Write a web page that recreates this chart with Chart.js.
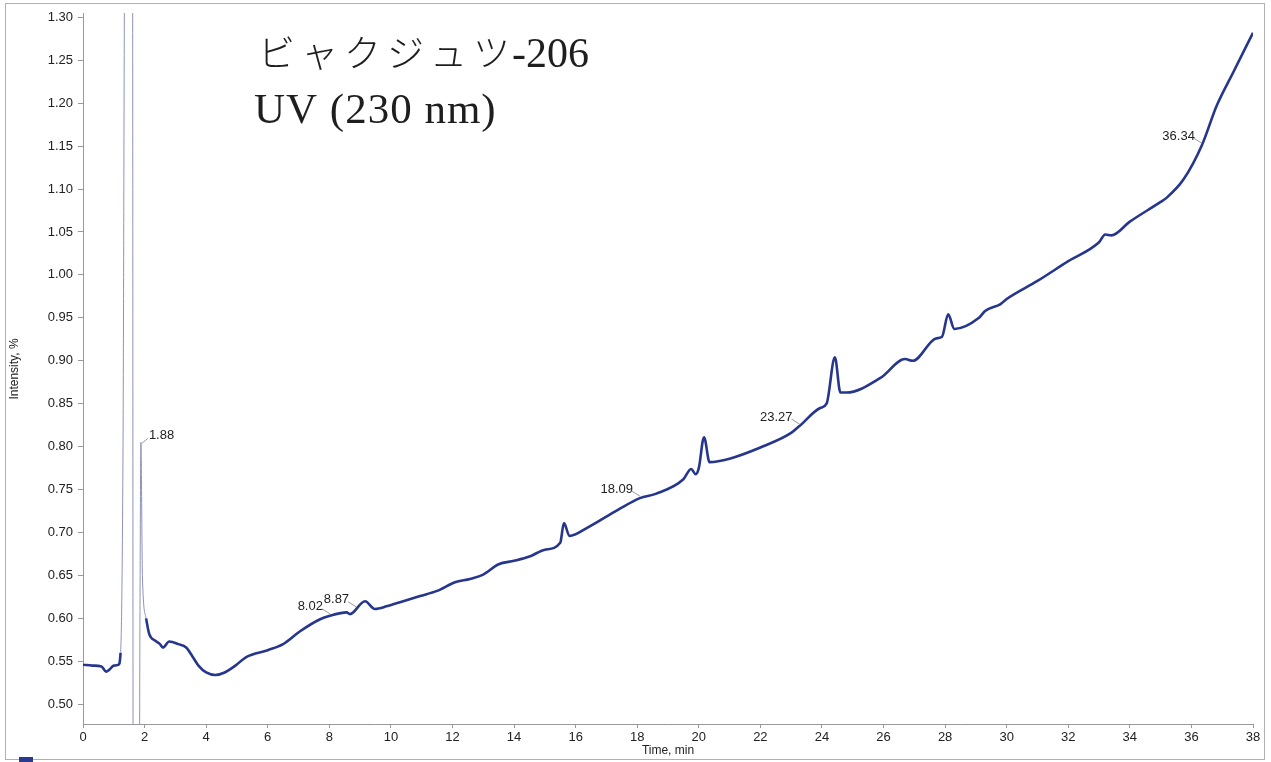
<!DOCTYPE html>
<html>
<head>
<meta charset="utf-8">
<script src="https://cdn.jsdelivr.net/npm/chart.js"></script>
<style>
  body { margin: 0; background: #fff; }
  #wrap { width: 1271px; height: 762px; }
</style>
</head>
<body>
<div id="wrap"><canvas id="chrom" width="1271" height="762"></canvas></div>
<script>
// retention time (min) and intensity (%)
const timeMin = [
  0.00, 0.30, 0.60, 0.75, 0.85, 1.00, 1.15, 1.22, 1.30, 1.36, 1.61, 1.63, 1.82, 1.85, 1.88, 1.93,
  2.05, 2.15, 2.35, 2.50, 2.60, 2.80, 3.10, 3.35, 3.55, 3.75, 4.00, 4.30, 4.60, 4.95, 5.30,
  6.00, 6.50, 7.05, 7.70, 8.02, 8.56, 8.67, 9.16, 9.48, 9.86, 10.40, 10.95, 11.50, 12.08, 12.57,
  13.00, 13.50, 14.00, 14.50, 15.00, 15.50, 15.62, 15.80, 16.40, 17.40, 18.09, 18.60, 19.50,
  19.75, 19.90, 20.00, 20.17, 20.35, 21.00, 22.00, 23.00, 23.27, 23.94, 24.15, 24.42, 24.60,
  24.80, 25.90, 26.70, 26.95, 27.70, 27.90, 28.10, 28.30, 29.10, 29.30, 29.80, 30.00, 31.00,
  32.00, 33.00, 33.20, 33.40, 34.00, 35.00, 35.20, 35.74, 36.34, 36.82, 37.36, 38.00
];
const intensity = [
  0.546, 0.545, 0.544, 0.538, 0.540, 0.545, 0.546, 0.560, 0.800, 1.400, 1.400, 0.300, 0.300, 0.600, 0.805, 0.650,
  0.600, 0.582, 0.574, 0.570, 0.566, 0.573, 0.570, 0.566, 0.556, 0.545, 0.537, 0.534, 0.537, 0.545, 0.555,
  0.563, 0.570, 0.585, 0.599, 0.603, 0.607, 0.605, 0.620, 0.611, 0.614, 0.620, 0.626, 0.632, 0.642, 0.646,
  0.651, 0.663, 0.667, 0.672, 0.680, 0.688, 0.711, 0.696, 0.706, 0.727, 0.740, 0.745, 0.762,
  0.774, 0.768, 0.775, 0.811, 0.782, 0.786, 0.799, 0.816, 0.824, 0.845, 0.850, 0.904, 0.863,
  0.863, 0.880, 0.902, 0.900, 0.926, 0.928, 0.954, 0.937, 0.950, 0.958, 0.966, 0.972, 0.993,
  1.016, 1.038, 1.047, 1.046, 1.062, 1.085, 1.090, 1.111, 1.151, 1.197, 1.236, 1.282
];

const peakLabels = ['1.88', '8.02', '8.87', '18.09', '23.27', '36.34'];
const peakTimes = [1.88, 8.02, 8.87, 18.09, 23.27, 36.34];

const xTicks = [0, 2, 4, 6, 8, 10, 12, 14, 16, 18, 20, 22, 24, 26, 28, 30, 32, 34, 36, 38];
const yTicks = [0.50, 0.55, 0.60, 0.65, 0.70, 0.75, 0.80, 0.85, 0.90, 0.95, 1.00,
                1.05, 1.10, 1.15, 1.20, 1.25, 1.30];

const sampleName = 'ビャクジュツ';
const sampleNo = '-206';
const detector = 'UV (230 nm)';
const xTitle = 'Time, min';
const yTitle = 'Intensity, %';

const points = timeMin.map((t, i) => ({ x: t, y: intensity[i] }));

function valueAt(t) {
  for (let i = 1; i < timeMin.length; i++) {
    if (timeMin[i] >= t) {
      const f = (t - timeMin[i - 1]) / (timeMin[i] - timeMin[i - 1]);
      return intensity[i - 1] + f * (intensity[i] - intensity[i - 1]);
    }
  }
  return intensity[intensity.length - 1];
}

// solvent front is drawn thin and faint like the original
function frontSegment(ctx) {
  const a = ctx.p0.parsed, b = ctx.p1.parsed;
  return a.x < 2.0 && (Math.max(a.y, b.y) > 0.62 || Math.min(a.y, b.y) < 0.5);
}

const framePlugin = {
  id: 'frame',
  beforeDraw(chart) {
    const c = chart.ctx;
    c.save();
    c.fillStyle = '#fff';
    c.fillRect(0, 0, chart.width, chart.height);
    c.strokeStyle = '#b0b0b0';
    c.lineWidth = 1;
    c.strokeRect(5.5, 3.5, 1259, 756);
    c.fillStyle = '#2a3a8e';
    c.fillRect(19, 757, 14, 5);
    c.restore();
  }
};

const textPlugin = {
  id: 'texts',
  afterDatasetsDraw(chart) {
    const c = chart.ctx;
    const xs = chart.scales.x, ys = chart.scales.y;
    c.save();

    // heading
    c.fillStyle = '#1e1e1e';
    c.textAlign = 'left';
    c.textBaseline = 'alphabetic';
    c.letterSpacing = '6px';
    c.font = '300 37px "Noto Sans CJK JP", sans-serif';
    c.fillText(sampleName, 258, 67);
    const w = c.measureText(sampleName).width;
    c.letterSpacing = '0px';
    c.font = '42px "Liberation Serif", serif';
    c.fillText(sampleNo, 258 + w - 4, 67);
    c.letterSpacing = '1px';
    c.font = '43px "Liberation Serif", serif';
    c.fillText(detector, 254, 123);
    c.letterSpacing = '0px';

    // peak annotations
    c.font = '13px "Liberation Sans", Arial, sans-serif';
    c.textBaseline = 'middle';
    peakTimes.forEach((t, i) => {
      const px = xs.getPixelForValue(t);
      const py = ys.getPixelForValue(valueAt(t));
      c.strokeStyle = '#999';
      c.lineWidth = 1;
      c.beginPath();
      if (i === 0) {
        c.moveTo(px + 1, py + 1);
        c.lineTo(px + 7, py - 4);
        c.stroke();
        c.textAlign = 'left';
        c.fillStyle = '#222';
        c.fillText(peakLabels[i], px + 8, py - 7);
      } else {
        c.moveTo(px, py - 2);
        c.lineTo(px - 8, py - 7);
        c.stroke();
        c.textAlign = 'right';
        c.fillStyle = '#222';
        c.fillText(peakLabels[i], px - 7, py - 9);
      }
    });

    // axis titles
    c.fillStyle = '#222';
    c.font = '12px "Liberation Sans", Arial, sans-serif';
    c.textAlign = 'center';
    c.fillText(xTitle, (xs.left + xs.right) / 2, 751);
    c.translate(15, 369);
    c.rotate(-Math.PI / 2);
    c.fillText(yTitle, 0, 0);
    c.restore();
  }
};

const ctx = document.getElementById('chrom').getContext('2d');
new Chart(ctx, {
  type: 'line',
  data: {
    datasets: [{
      data: points,
      borderColor: '#26368c',
      borderWidth: 2.6,
      pointRadius: 0,
      cubicInterpolationMode: 'monotone',
      segment: {
        borderColor: c => frontSegment(c) ? '#8d93b8' : undefined,
        borderWidth: c => frontSegment(c) ? 1 : undefined
      }
    }]
  },
  options: {
    responsive: false,
    animation: false,
    layout: { padding: { left: 0, right: 18, top: 13, bottom: 0 } },
    plugins: { legend: { display: false }, tooltip: { enabled: false } },
    scales: {
      x: {
        type: 'linear',
        min: 0,
        max: 38,
        afterFit: s => { s.height = 38; },
        afterBuildTicks: s => { s.ticks = xTicks.map(v => ({ value: v })); },
        grid: { drawOnChartArea: false, color: '#999', tickLength: 4 },
        border: { color: '#999' },
        ticks: {
          color: '#222',
          padding: 2,
          maxRotation: 0,
          font: { family: '"Liberation Sans", Arial, sans-serif', size: 13 }
        }
      },
      y: {
        min: 0.477,
        max: 1.305,
        afterFit: s => { s.width = 83; },
        afterBuildTicks: s => { s.ticks = yTicks.map(v => ({ value: v })); },
        grid: { drawOnChartArea: false, color: '#999', tickLength: 5 },
        border: { color: '#999' },
        ticks: {
          color: '#222',
          padding: 5,
          callback: v => v.toFixed(2),
          font: { family: '"Liberation Sans", Arial, sans-serif', size: 13 }
        }
      }
    }
  },
  plugins: [framePlugin, textPlugin]
});
</script>
</body>
</html>
